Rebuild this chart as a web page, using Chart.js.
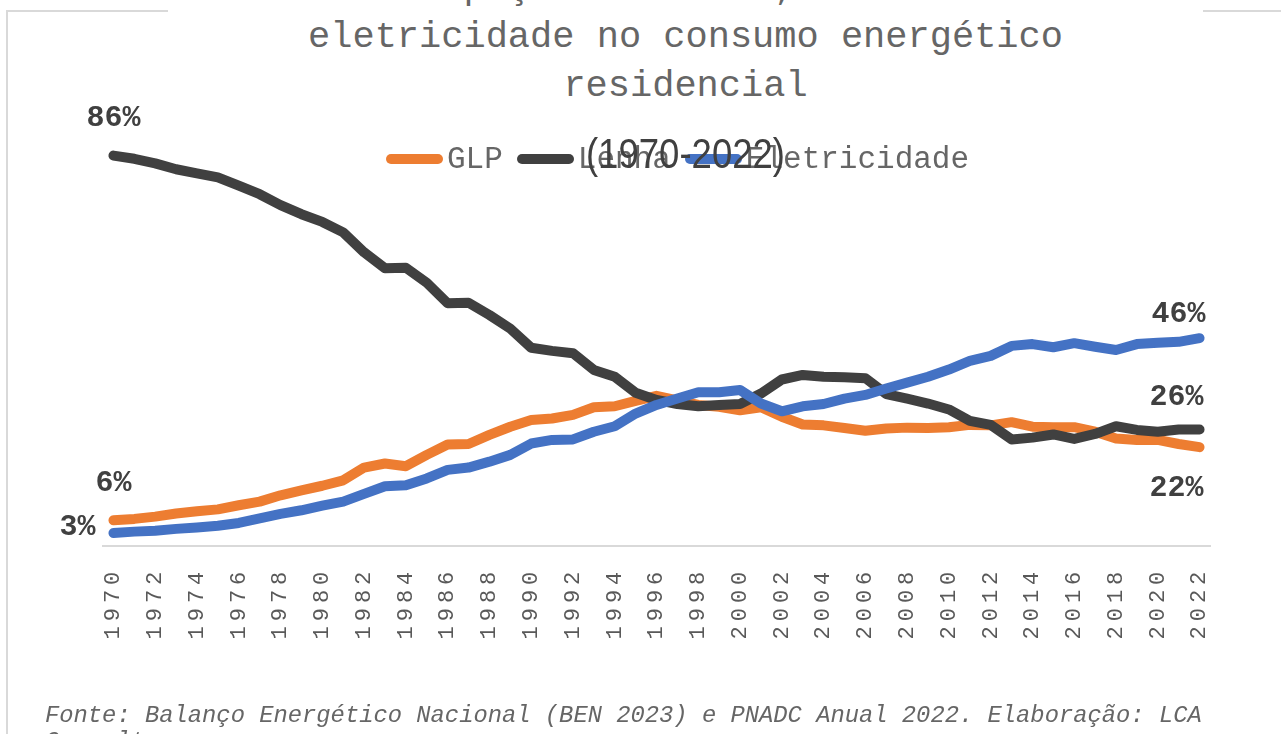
<!DOCTYPE html>
<html lang="pt-BR">
<head>
<meta charset="utf-8">
<script src="https://cdn.jsdelivr.net/npm/chart.js@4.4.0/dist/chart.umd.min.js"></script>
<style>
  html, body { margin: 0; padding: 0; background: #fff; overflow: hidden; }
  body { width: 1281px; height: 734px; position: relative; }
  #frame { position: absolute; left: 6px; top: 10px; right: -4px; bottom: -4px; border-left: 2px solid #d9d9d9; border-top: 2px solid #d9d9d9; }
  #chart { position: absolute; left: 0; top: 0; }
  #title { position: absolute; left: 168px; width: 1035px; top: -36px; padding-bottom: 6px; background: #fff; text-align: center; font: 37px "Liberation Mono", monospace; line-height: 49px; color: #666; white-space: nowrap; }
  #legend { position: absolute; left: 386px; top: 141px; height: 36px; display: flex; align-items: center; font: 31px "Liberation Mono", monospace; color: #666; white-space: nowrap; }
  #legend .sw { display: inline-block; width: 57px; height: 10px; border-radius: 5px; margin-right: 4px; }
  #legend .txt { margin-right: 14px; }
  #period { position: absolute; left: 0; width: 1371px; top: 129px; text-align: center; font: 42px "Liberation Sans", Arial, sans-serif; transform: scaleX(0.87); transform-origin: 685.5px 0; line-height: 50px; color: #404040; white-space: nowrap; }
  #source { position: absolute; left: 45px; top: 703px; width: 1200px; font: italic 23.8px "Liberation Mono", monospace; line-height: 26px; color: #666; }
</style>
</head>
<body>
<div id="frame"></div>
<canvas id="chart" width="1281" height="734"></canvas>
<div id="title">Participação da lenha, do GLP e da<br>eletricidade no consumo energético<br>residencial</div>
<div id="legend"></div>
<div id="period">(1970-2022)</div>
<div id="source">Fonte: Balanço Energético Nacional (BEN 2023) e PNADC Anual 2022. Elaboração: LCA Consultores</div>
<script>
const anos = ["1970", "1971", "1972", "1973", "1974", "1975", "1976", "1977", "1978", "1979",
  "1980", "1981", "1982", "1983", "1984", "1985", "1986", "1987", "1988", "1989",
  "1990", "1991", "1992", "1993", "1994", "1995", "1996", "1997", "1998", "1999",
  "2000", "2001", "2002", "2003", "2004", "2005", "2006", "2007", "2008", "2009",
  "2010", "2011", "2012", "2013", "2014", "2015", "2016", "2017", "2018", "2019",
  "2020", "2021", "2022"];

// participação (%) no consumo energético residencial
const glp = [5.6, 5.9, 6.4, 7.1, 7.6, 8.0, 8.9, 9.7, 11.1, 12.2,
  13.2, 14.4, 17.2, 18.1, 17.5, 20.0, 22.3, 22.4, 24.4, 26.2,
  27.7, 28.0, 28.8, 30.5, 30.7, 31.9, 33.0, 32.0, 31.0, 30.6,
  29.8, 30.5, 28.4, 26.7, 26.5, 25.9, 25.3, 25.8, 26.0, 25.9,
  26.1, 26.6, 26.5, 27.2, 26.2, 26.1, 26.1, 25.1, 23.6, 23.3,
  23.3, 22.4, 21.7];
const lenha = [85.9, 85.2, 84.2, 82.9, 82.0, 81.1, 79.3, 77.4, 75.0, 73.0,
  71.3, 69.0, 64.6, 61.1, 61.2, 57.9, 53.4, 53.5, 50.8, 47.8,
  43.6, 42.9, 42.4, 38.7, 37.2, 33.7, 32.1, 31.2, 30.7, 31.0,
  31.2, 33.5, 36.6, 37.6, 37.2, 37.1, 36.9, 33.4, 32.4, 31.3,
  30.0, 27.5, 26.6, 23.4, 23.8, 24.5, 23.5, 24.6, 26.3, 25.5,
  25.1, 25.6, 25.6];
const eletricidade = [2.8, 3.1, 3.3, 3.7, 4.0, 4.4, 5.0, 6.0, 7.0, 7.8,
  8.8, 9.7, 11.4, 13.1, 13.3, 14.8, 16.7, 17.2, 18.5, 20.0,
  22.5, 23.3, 23.4, 25.1, 26.3, 29.1, 31.0, 32.4, 33.8, 33.8,
  34.3, 31.3, 29.6, 30.7, 31.2, 32.4, 33.2, 34.6, 35.9, 37.2,
  38.8, 40.7, 41.8, 44.0, 44.4, 43.7, 44.6, 43.8, 43.1, 44.4,
  44.7, 44.9, 45.7];

const series = [
  { label: "GLP", data: glp, color: "#ED7D31", order: 3,
    marks: [{ at: "first", dx: 0, dy: -37, align: "center" }, { at: "last", dx: 4, dy: 41, align: "right" }] },
  { label: "Lenha", data: lenha, color: "#404040", order: 2,
    marks: [{ at: "first", dx: 0, dy: -37, align: "center" }, { at: "last", dx: 4, dy: -32, align: "right" }] },
  { label: "Eletricidade", data: eletricidade, color: "#4472C4", order: 1,
    marks: [{ at: "first", dx: -18, dy: -6, align: "right" }, { at: "last", dx: 6, dy: -24, align: "right" }] },
];

document.getElementById("legend").innerHTML = series
  .map((s) => `<span class="sw" style="background:${s.color}"></span><span class="txt">${s.label}</span>`)
  .join("");

const spacing = {
  id: "spacing",
  beforeLayout(chart) { chart.ctx.letterSpacing = "5px"; },
  beforeDraw(chart) { chart.ctx.letterSpacing = "5px"; },
};

const pointLabels = {
  id: "pointLabels",
  afterDatasetsDraw(chart) {
    const ctx = chart.ctx;
    ctx.save();
    ctx.letterSpacing = "0px";
    ctx.font = 'bold 30px "Liberation Mono", monospace';
    ctx.fillStyle = "#404040";
    ctx.textBaseline = "middle";
    chart.data.datasets.forEach((ds, d) => {
      const pts = chart.getDatasetMeta(d).data;
      ds.marks.forEach((m) => {
        const i = m.at === "first" ? 0 : ds.data.length - 1;
        ctx.textAlign = m.align;
        ctx.fillText(Math.round(ds.data[i]) + "%", pts[i].x + m.dx, pts[i].y + m.dy);
      });
    });
    ctx.restore();
  },
};

new Chart(document.getElementById("chart"), {
  type: "line",
  data: {
    labels: anos,
    datasets: series.map((s) => ({
      label: s.label,
      data: s.data,
      borderColor: s.color,
      backgroundColor: s.color,
      borderWidth: 10,
      borderCapStyle: "round",
      borderJoinStyle: "round",
      pointRadius: 0,
      tension: 0,
      order: s.order,
      marks: s.marks,
      clip: false,
    })),
  },
  options: {
    responsive: false,
    animation: false,
    layout: { padding: { left: 103, right: 71, top: 91.6, bottom: 73.5 } },
    plugins: { legend: { display: false }, title: { display: false }, tooltip: { enabled: false } },
    scales: {
      x: {
        type: "category",
        offset: true,
        grid: { display: false, drawTicks: false },
        border: { display: true, color: "#d9d9d9", width: 2 },
        ticks: {
          autoSkip: false,
          maxRotation: 90,
          minRotation: 90,
          padding: 21,
          color: "#595959",
          font: { family: "Liberation Mono", size: 22 },
          callback: (v, i) => (i % 2 === 0 ? anos[i] : ""),
        },
      },
      y: { display: false, min: 0, max: 100 },
    },
  },
  plugins: [spacing, pointLabels],
});
</script>
</body>
</html>
